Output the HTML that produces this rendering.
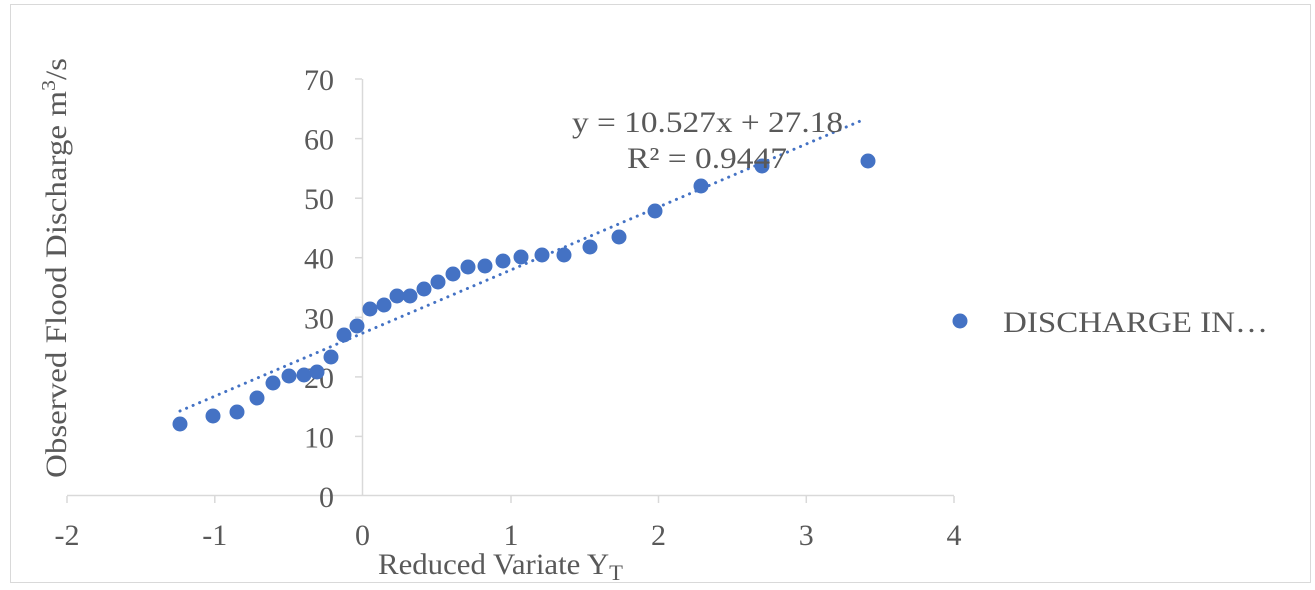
<!DOCTYPE html>
<html><head><style>body{margin:0;background:#fff}</style></head><body>
<svg width="1315" height="585" xmlns="http://www.w3.org/2000/svg" font-family="Liberation Serif, serif" fill="#595959">
<rect x="10.5" y="4.5" width="1300" height="578" fill="#fff" stroke="#d9d9d9"/>
<g stroke="#d9d9d9" stroke-width="1.5">
<line x1="362.5" y1="79" x2="362.5" y2="496"/>
<line x1="67" y1="495.5" x2="954" y2="495.5"/>
<line x1="355" y1="79" x2="362" y2="79"/><line x1="355" y1="138.6" x2="362" y2="138.6"/><line x1="355" y1="198.2" x2="362" y2="198.2"/><line x1="355" y1="257.7" x2="362" y2="257.7"/><line x1="355" y1="317.3" x2="362" y2="317.3"/><line x1="355" y1="376.9" x2="362" y2="376.9"/><line x1="355" y1="436.4" x2="362" y2="436.4"/>
<line x1="67" y1="496" x2="67" y2="503"/><line x1="214.8" y1="496" x2="214.8" y2="503"/><line x1="511" y1="496" x2="511" y2="503"/><line x1="658.5" y1="496" x2="658.5" y2="503"/><line x1="806.3" y1="496" x2="806.3" y2="503"/><line x1="954" y1="496" x2="954" y2="503"/>
</g>
<g font-size="30" text-anchor="end">
<text x="334" y="90">70</text><text x="334" y="149.6">60</text><text x="334" y="209.2">50</text><text x="334" y="268.7">40</text><text x="334" y="328.3">30</text><text x="334" y="387.9">20</text><text x="334" y="447.4">10</text><text x="334" y="507">0</text>
</g>
<g font-size="30" text-anchor="middle">
<text x="67" y="545">-2</text><text x="214.8" y="545">-1</text><text x="362.5" y="545">0</text><text x="511" y="545">1</text><text x="658.5" y="545">2</text><text x="806.3" y="545">3</text><text x="954" y="545">4</text>
</g>
<text x="378" y="574" font-size="30" textLength="245" lengthAdjust="spacingAndGlyphs">Reduced Variate Y<tspan font-size="22" dy="6">T</tspan></text>
<text transform="translate(66,478) rotate(-90)" font-size="30" textLength="420" lengthAdjust="spacingAndGlyphs">Observed Flood Discharge m<tspan font-size="20" dy="-11">3</tspan><tspan dy="11">/s</tspan></text>
<line x1="180" y1="411" x2="865" y2="119" stroke="#4472c4" stroke-width="3" stroke-dasharray="0.1 7" stroke-linecap="round"/>
<g fill="#4472c4">
<circle cx="180" cy="424" r="7.5"/><circle cx="213" cy="416" r="7.5"/><circle cx="237" cy="412" r="7.5"/><circle cx="257" cy="398" r="7.5"/><circle cx="273" cy="383" r="7.5"/><circle cx="289" cy="376" r="7.5"/><circle cx="304" cy="375" r="7.5"/><circle cx="317" cy="372" r="7.5"/><circle cx="331" cy="357" r="7.5"/><circle cx="344" cy="335" r="7.5"/><circle cx="357" cy="326" r="7.5"/><circle cx="370" cy="309" r="7.5"/><circle cx="384" cy="305" r="7.5"/><circle cx="397" cy="296" r="7.5"/><circle cx="410" cy="296" r="7.5"/><circle cx="424" cy="289" r="7.5"/><circle cx="438" cy="282" r="7.5"/><circle cx="453" cy="274" r="7.5"/><circle cx="468" cy="267" r="7.5"/><circle cx="485" cy="266" r="7.5"/><circle cx="503" cy="261" r="7.5"/><circle cx="521" cy="257" r="7.5"/><circle cx="542" cy="255" r="7.5"/><circle cx="564" cy="255" r="7.5"/><circle cx="590" cy="247" r="7.5"/><circle cx="619" cy="237" r="7.5"/><circle cx="655" cy="211" r="7.5"/><circle cx="701" cy="186" r="7.5"/><circle cx="762" cy="166" r="7.5"/><circle cx="868" cy="161" r="7.5"/>
<circle cx="960" cy="321" r="7.5"/>
</g>
<text x="572" y="132" font-size="30" textLength="271" lengthAdjust="spacingAndGlyphs">y = 10.527x + 27.18</text>
<text x="627" y="168" font-size="30" textLength="160" lengthAdjust="spacingAndGlyphs">R² = 0.9447</text>
<text x="1003" y="332" font-size="30" textLength="265" lengthAdjust="spacingAndGlyphs">DISCHARGE IN…</text>
</svg>
</body></html>
